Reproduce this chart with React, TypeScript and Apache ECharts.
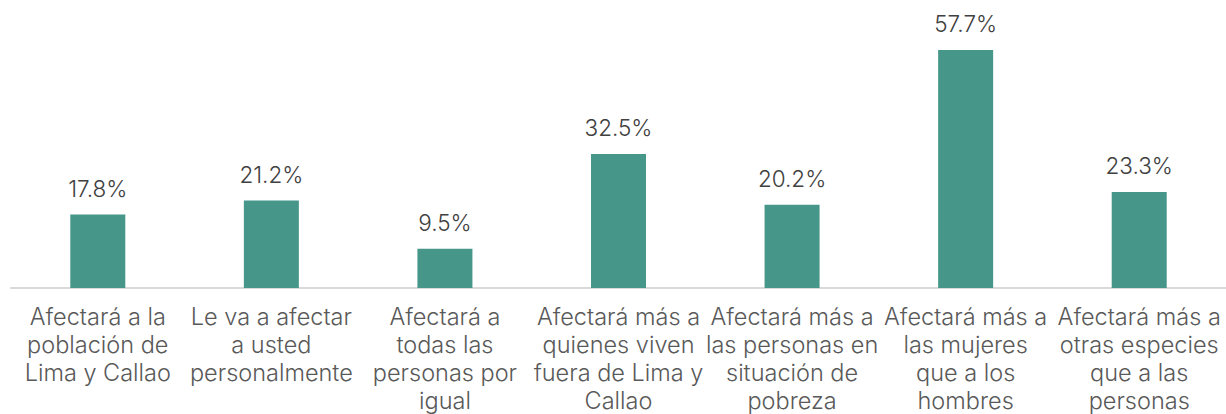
import React, { useEffect, useRef } from "react";
import * as echarts from "echarts";

const categories = [
  "Afectará a la\npoblación de\nLima y Callao",
  "Le va a afectar\na usted\npersonalmente",
  "Afectará a\ntodas las\npersonas por\nigual",
  "Afectará más a\nquienes viven\nfuera de Lima y\nCallao",
  "Afectará más a\nlas personas en\nsituación de\npobreza",
  "Afectará más a\nlas mujeres\nque a los\nhombres",
  "Afectará más a\notras especies\nque a las\npersonas",
];
const values = [17.8, 21.2, 9.5, 32.5, 20.2, 57.7, 23.3];

export default function App() {
  const ref = useRef<HTMLDivElement>(null);
  useEffect(() => {
    document.body.style.margin = "0";
    const chart = echarts.init(ref.current!, null, { renderer: "svg" });
    const font = "Inter";
    chart.setOption({
      animation: false,
      grid: { left: 11, width: 1219, top: 40.5, height: 247.5, containLabel: false },
      xAxis: {
        type: "category",
        data: categories,
        axisLine: { lineStyle: { color: "#d9d9d9", width: 2 } },
        axisTick: { show: false },
        axisLabel: {
          interval: 0,
          color: "#595959",
          fontFamily: font,
          fontWeight: 300,
          fontSize: 23.5,
          lineHeight: 28,
          margin: 14,
        },
      },
      yAxis: {
        type: "value",
        min: 0,
        max: 60,
        show: false,
        splitLine: { show: false },
      },
      series: [
        {
          type: "bar",
          data: values,
          barWidth: 55,
          itemStyle: { color: "#46968a" },
          label: {
            show: true,
            position: "top",
            distance: 15,
            formatter: (p: any) => p.value.toFixed(1) + "%",
            color: "#404040",
            fontFamily: font,
            fontWeight: 300,
            fontSize: 22.5,
          },
        },
      ],
    });
    return () => chart.dispose();
  }, []);
  return <div ref={ref} style={{ width: 1226, height: 414 }} />;
}
